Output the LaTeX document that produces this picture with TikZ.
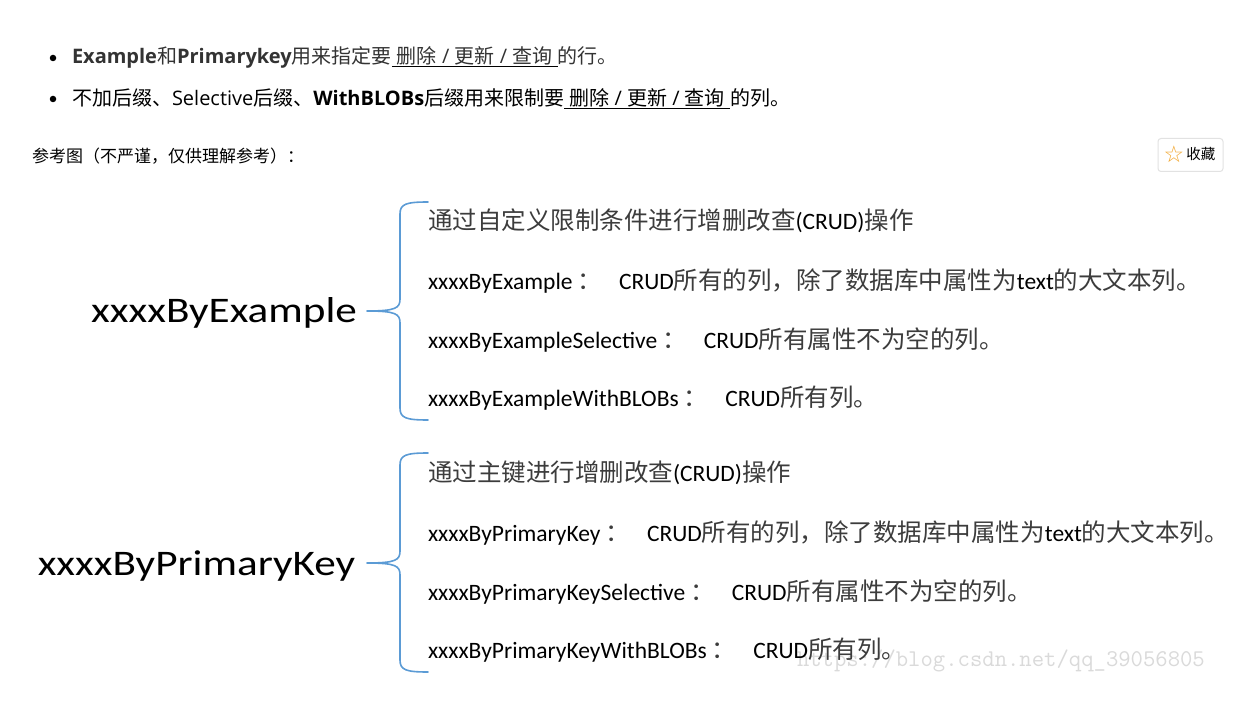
\documentclass[tikz,border=0pt]{standalone}
\usepackage{fontspec}
\setmainfont{Noto Sans CJK SC}
\newfontfamily\calibri{Carlito}
\newfontfamily\segoe{Open Sans}
\newfontfamily\symfont{DejaVu Sans}
\usetikzlibrary{positioning}
\definecolor{bracecol}{HTML}{5B9BD5}
\definecolor{bodytext}{HTML}{333333}
\definecolor{zhtext}{HTML}{3C3C3C}
\definecolor{markcol}{HTML}{DADADA}
\definecolor{starcol}{HTML}{F2A52B}
\definecolor{btnrule}{HTML}{E2E2E2}

\newcommand\en[1]{{\calibri\fontsize{23.5}{28}\selectfont\color{black}#1}}
\newcommand\hd[1]{{\segoe #1}}
\newcommand\hb[1]{{\segoe\bfseries #1}}
\newcommand\colsep{\kern5pt：\kern17pt}
\newcommand\uline[1]{\setbox0\hbox{#1}\rlap{\color{black}\rule[-3.5pt]{\wd0}{1.3pt}}\box0}

\begin{document}
\begin{tikzpicture}[
  x=1pt, y=-1pt,
  every node/.style={inner sep=0pt, outer sep=0pt},
  headline/.style={anchor=base west, font=\fontsize{20}{24}\selectfont},
  note/.style={anchor=base west, font=\fontsize{17}{20}\selectfont},
  bullet/.style={circle, fill=black, minimum size=6.5pt},
  button/.style={
    rectangle, draw=btnrule, line width=1pt,
    rounded corners=3pt,
    minimum width=65pt, minimum height=33pt
  },
  method/.style={anchor=base east, font=\calibri\fontsize{36}{40}\selectfont},
  item/.style={anchor=base west, text=zhtext, font=\fontsize{24.5}{28}\selectfont},
  brace/.style={draw=bracecol, line width=1.6pt, line cap=round, line join=round},
  watermark/.style={anchor=base west, text=markcol, font=\ttfamily\fontsize{24}{24}\selectfont}
]
\useasboundingbox[fill=white] (0,0) rectangle (1256,706);

% --- header lines
\node[bullet] (dot1) at (53,58) {};
\node[headline, text=bodytext] (line1) at (72,64)
  {\hb{Example}和\hb{Primarykey}用来指定要\uline{\hd{ }删除\hd{ / }更新\hd{ / }查询\hd{ }}的行。};
\node[bullet] (dot2) at (53,99) {};
\node[headline] (line2) at (72,105.5)
  {不加后缀、\hd{Selective}后缀、\hb{WithBLOBs}后缀用来限制要\uline{\hd{ }删除\hd{ / }更新\hd{ / }查询\hd{ }}的列。};

\node[note] (refnote) at (32,163) {参考图（不严谨，仅供理解参考）：};

% --- favourite button
\node[button] (fav) at (1190.5,155) {};
\node[text=starcol, font=\symfont\fontsize{23}{23}\selectfont] (star) at (1174,154.5) {☆};
\node[right=2pt of star, font=\fontsize{14.5}{15}\selectfont] (favtext) {收藏};

% --- watermark (under the text)
\node[watermark] (csdn) at (797,666) {https://blog.csdn.net/qq\_39056805};

% --- braces
\foreach \top/\mid/\bot in {202/311/420, 453/563/672} {
  \draw[brace] (428,\top) .. controls (406,\top) and (400,\top+2) .. (400,\top+12)
    -- (400,\mid-12) .. controls (400,\mid-3) and (396,\mid) .. (367,\mid)
    .. controls (396,\mid) and (400,\mid+3) .. (400,\mid+12)
    -- (400,\bot-12) .. controls (400,\bot-2) and (406,\bot) .. (428,\bot);
}

% --- ByExample group
\node[method] (byexample) at (357,322) {\scalebox{1.2}[1]{xxxxByExample}};
\node[item] (ex0) at (428,229) {通过自定义限制条件进行增删改查\en{(CRUD)}操作};
\node[item] (ex1) at (428,289) {\en{xxxxByExample}\colsep\en{CRUD}所有的列，除了数据库中属性为\en{text}的大文本列。};
\node[item] (ex2) at (428,348) {\en{xxxxByExampleSelective}\colsep\en{CRUD}所有属性不为空的列。};
\node[item] (ex3) at (428,406) {\en{xxxxByExampleWithBLOBs}\colsep\en{CRUD}所有列。};

% --- ByPrimaryKey group
\node[method] (bykey) at (355,575) {\scalebox{1.2}[1]{xxxxByPrimaryKey}};
\node[item] (pk0) at (428,481) {通过主键进行增删改查\en{(CRUD)}操作};
\node[item] (pk1) at (428,541) {\en{xxxxByPrimaryKey}\colsep\en{CRUD}所有的列，除了数据库中属性为\en{text}的大文本列。};
\node[item] (pk2) at (428,600) {\en{xxxxByPrimaryKeySelective}\colsep\en{CRUD}所有属性不为空的列。};
\node[item] (pk3) at (428,658) {\en{xxxxByPrimaryKeyWithBLOBs}\colsep\en{CRUD}所有列。};

\end{tikzpicture}
\end{document}
